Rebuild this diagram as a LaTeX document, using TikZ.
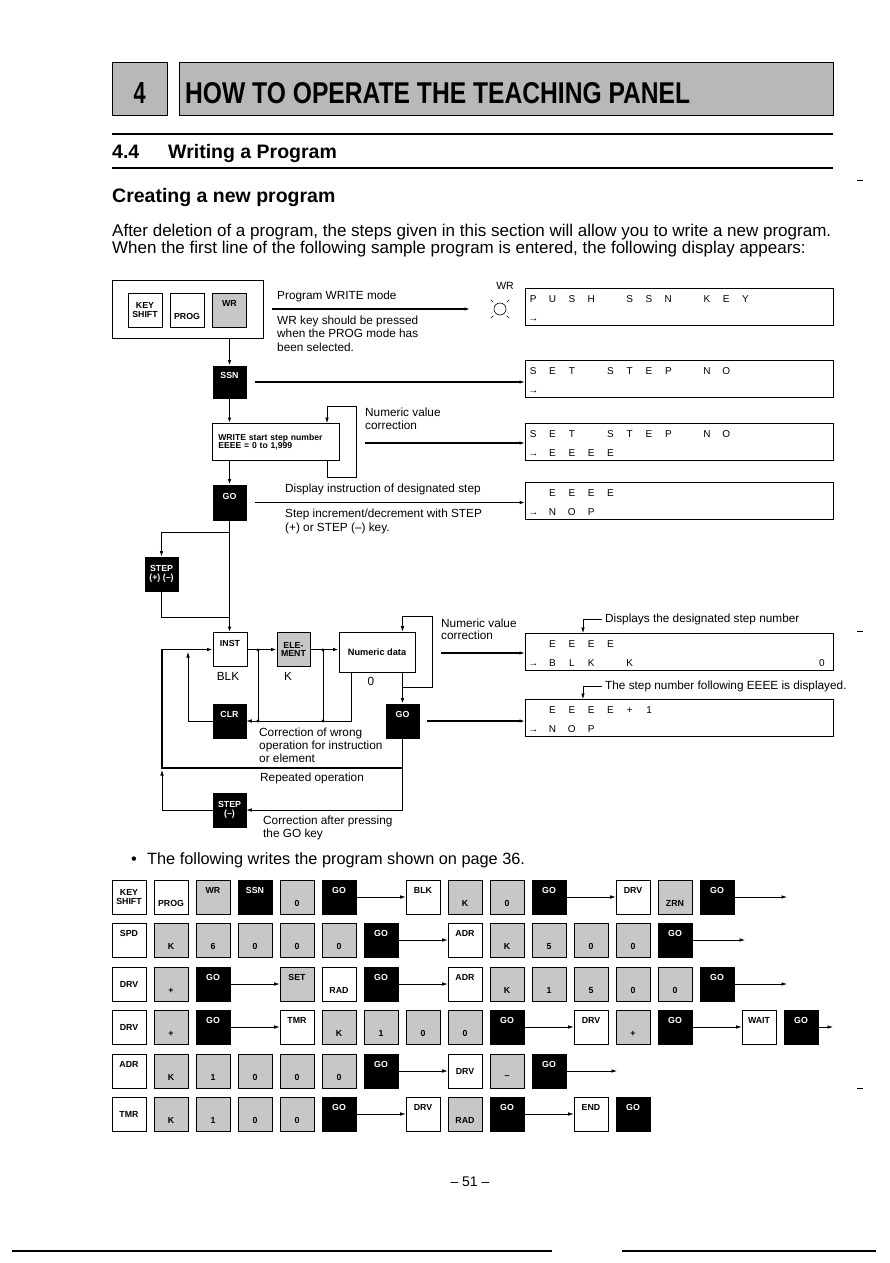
\documentclass[tikz,border=0pt]{standalone}
\usepackage{fontspec}
\setmainfont{Liberation Sans}
\usetikzlibrary{arrows.meta,calc}
\definecolor{keygray}{gray}{0.78}
\definecolor{hdrgray}{gray}{0.72}
\newcommand\myfs[1]{\fontsize{#1pt}{#1pt}\selectfont}
\newcommand\dc[1]{\makebox[19.3pt][c]{#1}}
\newcommand\kk[6]{\node[#4,label={[kl,#5]center:{#6}}] (#1) at ({129+42*#2},#3) {};}
\begin{document}
\begin{tikzpicture}[x=1pt,y=-1pt,
 every node/.style={inner sep=0pt},
 key/.style={draw, line width=0.7pt, minimum width=34pt, minimum height=34pt, inner sep=0pt},
 wk/.style={key, fill=white},
 gk/.style={key, fill=keygray},
 bk/.style={key, fill=black},
 kl/.style={font=\myfs{8.8}\bfseries, align=center},
 lt/.style={yshift=6.5pt}, lb/.style={yshift=-6.5pt}, lm/.style={},
 wt/.style={text=white},
 txt/.style={anchor=base west, font=\myfs{11.8}},
 body/.style={anchor=base west, font=\myfs{17}},
 disp/.style={draw, line width=0.7pt, minimum width=308pt, minimum height=37pt, anchor=north west},
 dl/.style={anchor=base west, font=\myfs{10}},
 mainln/.style={line width=1.3pt},
 midln/.style={line width=0.9pt},
 thinln/.style={line width=0.6pt},
 arr/.style={-{Latex[length=5.5pt,width=3.5pt]}},
]
\useasboundingbox (0,0) rectangle (890,1263);
\fill[white] (0,0) rectangle (890,1263);

% ---------- header ----------
\node[draw, line width=1.2pt, fill=hdrgray, minimum width=55pt, minimum height=53pt, anchor=north west] (chapbox) at (112,62) {};
\node[anchor=base] (chapnum) at (139.5,103) {\resizebox{12pt}{21pt}{\bfseries 4}};
\node[draw, line width=1.2pt, fill=hdrgray, minimum width=654pt, minimum height=53pt, anchor=north west] (titlebox) at (179,62) {};
\node[anchor=base west] (title) at (185,103) {\resizebox{505pt}{21pt}{\bfseries HOW TO OPERATE THE TEACHING PANEL}};
\draw[line width=1.6pt] (112,134) -- (833,134);
\draw[line width=1.6pt] (112,168) -- (833,168);
\node[txt, font=\myfs{19.5}\bfseries] (secnum) at (112,158) {4.4};
\node[txt, font=\myfs{19.5}\bfseries] (sectitle) at (168,158) {Writing a Program};
\node[txt, font=\myfs{19.5}\bfseries] (subtitle) at (112,202) {Creating a new program};
\node[body] (para1) at (112,236) {After deletion of a program, the steps given in this section will allow you to write a new program.};
\node[body] (para2) at (112,253) {When the first line of the following sample program is entered, the following display appears:};

% ---------- displays ----------
\node[disp] (d1) at (525,288) {};
\node[disp] (d2) at (525,360) {};
\node[disp] (d3) at (525,423) {};
\node[disp] (d4) at (525,482) {};
\node[disp] (d5) at (525,633) {};
\node[disp] (d6) at (525,699) {};
\node[dl] (d1r1) at (523.4,302) {\dc{P}\dc{U}\dc{S}\dc{H}\dc{}\dc{S}\dc{S}\dc{N}\dc{}\dc{K}\dc{E}\dc{Y}};
\node[dl] (d1r2) at (523.4,321) {\dc{→}};
\node[dl] (d2r1) at (523.4,374) {\dc{S}\dc{E}\dc{T}\dc{}\dc{S}\dc{T}\dc{E}\dc{P}\dc{}\dc{N}\dc{O}};
\node[dl] (d2r2) at (523.4,393) {\dc{→}};
\node[dl] (d3r1) at (523.4,437) {\dc{S}\dc{E}\dc{T}\dc{}\dc{S}\dc{T}\dc{E}\dc{P}\dc{}\dc{N}\dc{O}};
\node[dl] (d3r2) at (523.4,456) {\dc{→}\dc{E}\dc{E}\dc{E}\dc{E}};
\node[dl] (d4r1) at (523.4,496) {\dc{}\dc{E}\dc{E}\dc{E}\dc{E}};
\node[dl] (d4r2) at (523.4,515) {\dc{→}\dc{N}\dc{O}\dc{P}};
\node[dl] (d5r1) at (523.4,647) {\dc{}\dc{E}\dc{E}\dc{E}\dc{E}};
\node[dl] (d5r2) at (523.4,666) {\dc{→}\dc{B}\dc{L}\dc{K}\dc{}\dc{K}};
\node[font=\myfs{10}, anchor=base] (d5z) at (822,666) {0};
\node[dl] (d6r1) at (523.4,713) {\dc{}\dc{E}\dc{E}\dc{E}\dc{E}\dc{+}\dc{1}};
\node[dl] (d6r2) at (523.4,732) {\dc{→}\dc{N}\dc{O}\dc{P}};

% ---------- flow: panel ----------
\node[draw, line width=0.7pt, minimum width=151pt, minimum height=58pt, anchor=north west] (panel) at (112,280) {};
\node[wk, label={[kl,lm]center:{KEY\\SHIFT}}] (pks) at (145,310) {};
\node[wk, label={[kl,lb]center:PROG}] (pprog) at (187,310) {};
\node[gk, label={[kl,lt]center:WR}] (pwr) at (229.5,310) {};
\coordinate (pw1) at (272,309);
\coordinate (pw2) at (470,309);
\draw[mainln, arr] (pw1) -- (pw2);
\node[txt] (t1) at (277,299) {Program WRITE mode};
\node[txt] (t2) at (277,324) {WR key should be pressed};
\node[txt] (t3) at (277,337) {when the PROG mode has};
\node[txt] (t4) at (277,351) {been selected.};
\node[font=\myfs{10.5}, anchor=base] (wrl) at (505,289) {WR};
\coordinate (lamp) at (500,309);
\draw[thinln] (lamp) circle (6);
\foreach \a in {45,135,225,315} \draw[thinln] (lamp) ++(\a:9.5) -- ++(\a:3.5);

% SSN
\node[bk, minimum width=33pt, minimum height=32pt, label={[kl,lt,wt]center:SSN}] (ssn) at (229.5,382) {};
\draw[mainln, arr] (ssn.north |- panel.south) -- (ssn.north);
\draw[mainln, arr] ([xshift=9pt]ssn.east) -- (ssn.east -| d2.west);

% write box
\node[draw, line width=0.7pt, minimum width=127pt, minimum height=37pt, anchor=north west, align=left, font=\myfs{8.6}\bfseries, text width=115pt] (wbox) at (212,423) {WRITE start step number\\EEEE = 0 to 1,999};
\draw[mainln, arr] (ssn.south) -- (ssn.south |- wbox.north);
\coordinate (wl) at (327,406);
\coordinate (wr) at (356,477);
\draw[thinln, arr] (wbox.south -| wl) |- (wr) |- (wl) -- (wbox.north -| wl);
\node[txt] (t5) at (365,416) {Numeric value};
\node[txt] (t6) at (365,429) {correction};
\coordinate (a3) at (365,443);
\draw[mainln, arr] (a3) -- (a3 -| d3.west);

% GO 1
\node[bk, minimum width=33pt, minimum height=35pt, label={[kl,lt,wt]center:GO}] (go1) at (229.5,502.5) {};
\draw[mainln, arr] (go1.north |- wbox.south) -- (go1.north);
\draw[mainln, arr] ([xshift=9pt]go1.east) -- (go1.east -| d4.west);
\node[txt] (t7) at (285,492) {Display instruction of designated step};
\node[txt] (t8) at (285,517) {Step increment/decrement with STEP};
\node[txt] (t9) at (285,531) {(+) or STEP (--) key.};

% STEP (+)(-)
\coordinate (j1) at (229.5,532);
\coordinate (j2) at (229.5,617);
\node[bk, minimum width=33pt, label={[kl,lm,wt]center:{STEP\\(+) (--)}}] (step1) at (161.5,574) {};
\draw[midln, arr] (j1) -| (step1.north);
\draw[midln] (step1.south) |- (j2);

% INST / ELEMENT / Numeric data
\node[wk, label={[kl,lt]center:INST}] (inst) at (230,649.5) {};
\draw[mainln, arr] (go1.south) -- (go1.south |- inst.north);
\node[gk, minimum width=33pt, label={[kl,lm]center:{ELE-\\MENT}}] (elem) at (293.5,649.5) {};
\node[draw, line width=0.7pt, minimum width=76pt, minimum height=40pt, font=\myfs{9.2}\bfseries] (numd) at (377,652) {Numeric data};
\draw[mainln, arr] (inst.east) -- (elem.west);
\draw[mainln, arr] (elem.east) -- (elem.east -| numd.west);
\node[font=\myfs{11.8}] (lblk) at (228,676) {BLK};
\node[font=\myfs{11.8}] (lk) at (288,676) {K};
\node[font=\myfs{11.8}] (l0) at (371,681) {0};

% GO 2
\node[bk, minimum width=33pt, label={[kl,lt,wt]center:GO}] (go2) at (402.5,721) {};
\draw[mainln, arr] (go2.north |- numd.south) -- (go2.north);
\coordinate (nl1) at (402.5,687);
\coordinate (nl2) at (432,616);
\draw[thinln, arr] (nl1) -| (nl2) -| (numd.north -| nl1);
\node[txt] (t10) at (441,627) {Numeric value};
\node[txt] (t11) at (441,639) {correction};
\coordinate (n5) at (441,653);
\draw[mainln, arr] (n5) -- (n5 -| d5.west);
\draw[mainln, arr] ([xshift=8pt]go2.east) -- (go2.east -| d6.west);

% pointers
\node[txt] (t12) at (605,622) {Displays the designated step number};
\coordinate (p5) at (583,619);
\draw[thinln, arr] ([xshift=19pt]p5) -- (p5) -- (p5 |- d5.north);
\node[txt] (t13) at (605,689) {The step number following EEEE is displayed.};
\coordinate (p6) at (583,686);
\draw[thinln, arr] ([xshift=19pt]p6) -- (p6) -- (p6 |- d6.north);

% CLR
\node[bk, minimum width=33pt, label={[kl,lt,wt]center:CLR}] (clr) at (229.5,721) {};
\coordinate (cj1) at (258,650);
\coordinate (cj2) at (323,650);
\coordinate (cb1) at (258,721);
\coordinate (cb2) at (323,721);
\coordinate (cb3) at (351,721);
\draw[thinln] (cj1) -- (cb1);
\draw[thinln] (cj2) -- (cb2);
\draw[thinln, arr] (numd.south -| cb3) -- (cb3) -- (clr.east);
\foreach \p in {cj1,cj2,cb1,cb2} \fill (\p) circle (1.6);
\coordinate (cl) at (188,652);
\draw[thinln, arr] (clr.west) -| (cl);
\node[txt] (t14) at (259,736) {Correction of wrong};
\node[txt] (t15) at (259,749) {operation for instruction};
\node[txt] (t16) at (259,762) {or element};

% repeated operation
\coordinate (r1) at (402.5,768);
\coordinate (r2) at (162,649.5);
\draw[mainln, arr] (go2.south) -- (r1) -| (r2) -- (inst.west);
\node[txt] (t17) at (260,781) {Repeated operation};

% STEP (-)
\node[bk, minimum width=33pt, label={[kl,lm,wt]center:{STEP\\(--)}}] (step2) at (229.5,810) {};
\coordinate (r3) at (162,770);
\draw[thinln, arr] (r1) |- (step2.east);
\draw[thinln, arr] (step2.west) -| (r3);
\node[txt] (t18) at (263,824) {Correction after pressing};
\node[txt] (t19) at (263,837) {the GO key};

% ---------- key sequence ----------
\node[body, font=\myfs{16.3}] (bul) at (131,864) {•};
\node[body, font=\myfs{16.3}] (bultext) at (147,864) {The following writes the program shown on page 36.};

% row 1
\kk{a0}{0}{897}{wk}{lm}{KEY\\SHIFT}
\kk{a1}{1}{897}{wk}{lb}{PROG}
\kk{a2}{2}{897}{gk}{lt}{WR}
\kk{a3}{3}{897}{bk}{lt,wt}{SSN}
\kk{a4}{4}{897}{gk}{lb}{0}
\kk{a5}{5}{897}{bk}{lt,wt}{GO}
\kk{a7}{7}{897}{wk}{lt}{BLK}
\kk{a8}{8}{897}{gk}{lb}{K}
\kk{a9}{9}{897}{gk}{lb}{0}
\kk{a10}{10}{897}{bk}{lt,wt}{GO}
\kk{a12}{12}{897}{wk}{lt}{DRV}
\kk{a13}{13}{897}{gk}{lb}{ZRN}
\kk{a14}{14}{897}{bk}{lt,wt}{GO}
\coordinate (ae) at (787,897);
\draw[thinln, arr] (a5.east) -- (a7.west);
\draw[thinln, arr] (a10.east) -- (a12.west);
\draw[thinln, arr] (a14.east) -- (ae);

% row 2
\kk{b0}{0}{940}{wk}{lt}{SPD}
\kk{b1}{1}{940}{gk}{lb}{K}
\kk{b2}{2}{940}{gk}{lb}{6}
\kk{b3}{3}{940}{gk}{lb}{0}
\kk{b4}{4}{940}{gk}{lb}{0}
\kk{b5}{5}{940}{gk}{lb}{0}
\kk{b6}{6}{940}{bk}{lt,wt}{GO}
\kk{b8}{8}{940}{wk}{lt}{ADR}
\kk{b9}{9}{940}{gk}{lb}{K}
\kk{b10}{10}{940}{gk}{lb}{5}
\kk{b11}{11}{940}{gk}{lb}{0}
\kk{b12}{12}{940}{gk}{lb}{0}
\kk{b13}{13}{940}{bk}{lt,wt}{GO}
\coordinate (be) at (745,940);
\draw[thinln, arr] (b6.east) -- (b8.west);
\draw[thinln, arr] (b13.east) -- (be);

% row 3
\kk{c0}{0}{984}{wk}{lm}{DRV}
\kk{c1}{1}{984}{gk}{lb}{+}
\kk{c2}{2}{984}{bk}{lt,wt}{GO}
\kk{c4}{4}{984}{gk}{lt}{SET}
\kk{c5}{5}{984}{wk}{lb}{RAD}
\kk{c6}{6}{984}{bk}{lt,wt}{GO}
\kk{c8}{8}{984}{wk}{lt}{ADR}
\kk{c9}{9}{984}{gk}{lb}{K}
\kk{c10}{10}{984}{gk}{lb}{1}
\kk{c11}{11}{984}{gk}{lb}{5}
\kk{c12}{12}{984}{gk}{lb}{0}
\kk{c13}{13}{984}{gk}{lb}{0}
\kk{c14}{14}{984}{bk}{lt,wt}{GO}
\coordinate (ce) at (787,984);
\draw[thinln, arr] (c2.east) -- (c4.west);
\draw[thinln, arr] (c6.east) -- (c8.west);
\draw[thinln, arr] (c14.east) -- (ce);

% row 4
\kk{e0}{0}{1027}{wk}{lm}{DRV}
\kk{e1}{1}{1027}{gk}{lb}{+}
\kk{e2}{2}{1027}{bk}{lt,wt}{GO}
\kk{e4}{4}{1027}{wk}{lt}{TMR}
\kk{e5}{5}{1027}{gk}{lb}{K}
\kk{e6}{6}{1027}{gk}{lb}{1}
\kk{e7}{7}{1027}{gk}{lb}{0}
\kk{e8}{8}{1027}{gk}{lb}{0}
\kk{e9}{9}{1027}{bk}{lt,wt}{GO}
\kk{e11}{11}{1027}{wk}{lt}{DRV}
\kk{e12}{12}{1027}{gk}{lb}{+}
\kk{e13}{13}{1027}{bk}{lt,wt}{GO}
\kk{e15}{15}{1027}{wk}{lt}{WAIT}
\kk{e16}{16}{1027}{bk}{lt,wt}{GO}
\coordinate (ee) at (833,1027);
\draw[thinln, arr] (e2.east) -- (e4.west);
\draw[thinln, arr] (e9.east) -- (e11.west);
\draw[thinln, arr] (e13.east) -- (e15.west);
\draw[thinln, arr] (e16.east) -- (ee);

% row 5
\kk{f0}{0}{1071}{wk}{lt}{ADR}
\kk{f1}{1}{1071}{gk}{lb}{K}
\kk{f2}{2}{1071}{gk}{lb}{1}
\kk{f3}{3}{1071}{gk}{lb}{0}
\kk{f4}{4}{1071}{gk}{lb}{0}
\kk{f5}{5}{1071}{gk}{lb}{0}
\kk{f6}{6}{1071}{bk}{lt,wt}{GO}
\kk{f8}{8}{1071}{wk}{lm}{DRV}
\kk{f9}{9}{1071}{gk}{lb}{--}
\kk{f10}{10}{1071}{bk}{lt,wt}{GO}
\coordinate (fe) at (617,1071);
\draw[thinln, arr] (f6.east) -- (f8.west);
\draw[thinln, arr] (f10.east) -- (fe);

% row 6
\kk{g0}{0}{1114}{wk}{lm}{TMR}
\kk{g1}{1}{1114}{gk}{lb}{K}
\kk{g2}{2}{1114}{gk}{lb}{1}
\kk{g3}{3}{1114}{gk}{lb}{0}
\kk{g4}{4}{1114}{gk}{lb}{0}
\kk{g5}{5}{1114}{bk}{lt,wt}{GO}
\kk{g7}{7}{1114}{wk}{lt}{DRV}
\kk{g8}{8}{1114}{gk}{lb}{RAD}
\kk{g9}{9}{1114}{bk}{lt,wt}{GO}
\kk{g11}{11}{1114}{wk}{lt}{END}
\kk{g12}{12}{1114}{bk}{lt,wt}{GO}
\draw[thinln, arr] (g5.east) -- (g7.west);
\draw[thinln, arr] (g9.east) -- (g11.west);

% ---------- footer ----------
\node[anchor=base, font=\myfs{14}] (pageno) at (470,1186) {-- 51 --};
\draw[line width=1.8pt] (12,1251) -- (552,1251);
\draw[line width=1.8pt] (622,1251) -- (876,1251);
\draw[thinln] (857,180) -- (863,180);
\draw[thinln] (857,631) -- (863,631);
\draw[thinln] (857,1088) -- (863,1088);
\end{tikzpicture}
\end{document}
